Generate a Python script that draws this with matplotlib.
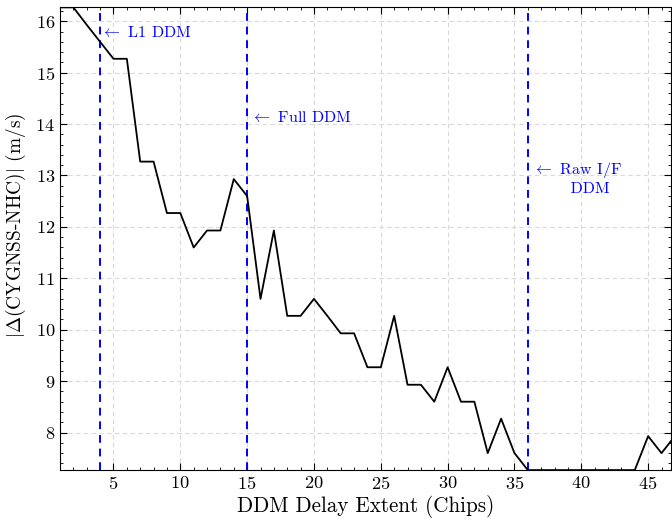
import matplotlib
matplotlib.use("Agg")
import matplotlib.pyplot as plt
from matplotlib.ticker import MultipleLocator

# Wind speed error vs. DDM delay extent
delay_chips = list(range(1, 48))
abs_diff = [
    16.27, 16.27, 15.93, 15.60, 15.27, 15.27, 13.27, 13.27, 12.27, 12.27,
    11.60, 11.93, 11.93, 12.93, 12.60, 10.60, 11.93, 10.27, 10.27, 10.60,
    10.27, 9.93, 9.93, 9.27, 9.27, 10.27, 8.93, 8.93, 8.60, 9.27,
    8.60, 8.60, 7.60, 8.27, 7.60, 7.27, 7.27, 7.27, 7.27, 7.27,
    7.27, 7.27, 7.27, 7.27, 7.93, 7.60, 7.93,
]

# DDM type markers
marker_x = [4, 15, 36]
marker_labels = [r"$\leftarrow$ L1 DDM", r"$\leftarrow$ Full DDM",
                 "$\\leftarrow$ Raw I/F\n       DDM"]
marker_text_pos = [(4.1, 15.78), (15.3, 14.13), (36.4, 12.95)]

plt.rcParams.update({
    "font.family": "serif",
    "font.serif": ["cmr10"],
    "mathtext.fontset": "cm",
    "axes.unicode_minus": False,
    "axes.formatter.use_mathtext": True,
    "font.size": 12,
})

fig = plt.figure(figsize=(6.72, 5.27), dpi=100)
ax = fig.add_axes([0.0893, 0.108, 0.909, 0.878])

ax.plot(delay_chips, abs_diff, color="black", linewidth=1.3, zorder=3)

for xv, lab, (tx, ty) in zip(marker_x, marker_labels, marker_text_pos):
    ax.axvline(xv, color="#0000ff", linestyle=(0, (4, 3)), linewidth=1.4, zorder=2)
    ax.text(tx, ty, lab, color="#0000ff", fontsize=11.5, va="center", ha="left",
            linespacing=1.25)

ax.set_xlim(1, 46.7)
ax.set_ylim(min(abs_diff), max(abs_diff))

ax.xaxis.set_major_locator(MultipleLocator(5))
ax.xaxis.set_minor_locator(MultipleLocator(1))
ax.yaxis.set_major_locator(MultipleLocator(1))
ax.yaxis.set_minor_locator(MultipleLocator(0.2))
ax.tick_params(which="both", direction="in", top=True, right=True)
ax.tick_params(which="major", length=5, width=0.8, labelsize=13.2)
ax.tick_params(which="minor", length=2.5, width=0.6)

ax.grid(True, which="major", linestyle=(0, (4, 3)), color="#d9d9d9", linewidth=0.8)
ax.set_axisbelow(True)

ax.set_xlabel("DDM Delay Extent (Chips)", fontsize=15.2, labelpad=2)
ax.set_ylabel(r"$|\Delta$(CYGNSS-NHC)$|$ (m/s)", fontsize=13.9)
ax.yaxis.set_label_coords(-0.052, 0.53)

fig.savefig("out.png", dpi=100)
